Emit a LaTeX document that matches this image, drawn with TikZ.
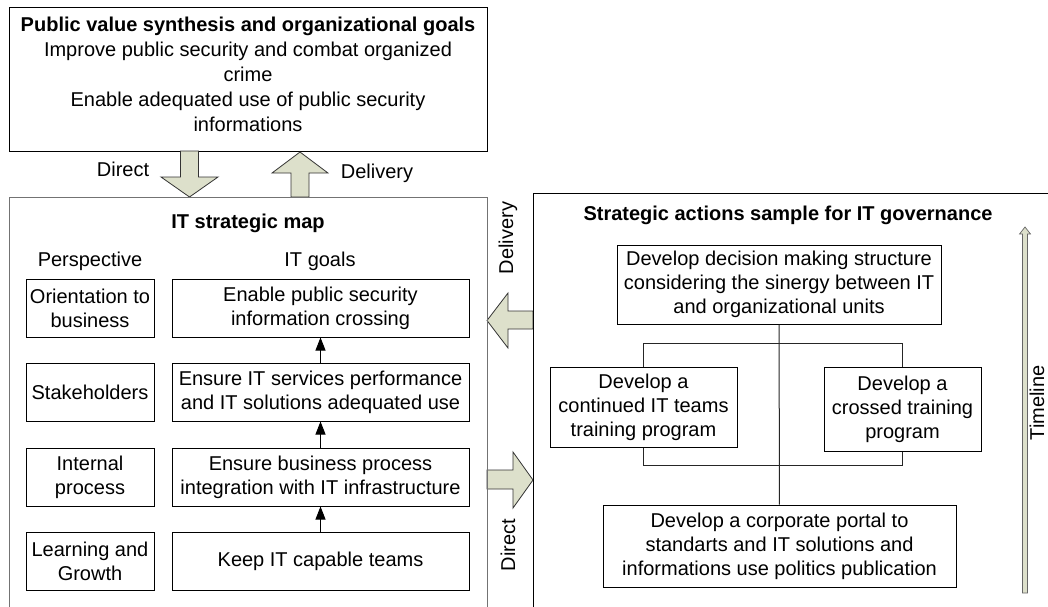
\documentclass[tikz,border=0pt]{standalone}
\usepackage{fontspec}
\setmainfont{Liberation Sans}
\usetikzlibrary{arrows.meta}
\definecolor{arrowfill}{RGB}{221,224,203}

\tikzset{
  txt/.style={font=\fontsize{20}{24}\selectfont},
  title/.style={font=\fontsize{20}{24}\selectfont\bfseries},
  box/.style={txt,draw,line width=1pt,align=center,inner sep=1pt},
  panel/.style={draw,line width=1pt},
  bigarrow/.style={draw=black!80,fill=arrowfill,line width=0.8pt,line join=miter},
  goalarrow/.style={-{Triangle[length=13pt,width=10pt]},line width=1pt},
  link/.style={line width=1pt,black!85}
}

\begin{document}
\begin{tikzpicture}[x=1pt,y=-1pt]
  \useasboundingbox (0,0) rectangle (1048,606);
  \clip (0,0) rectangle (1048,606);

  % public value block
  \node[panel,minimum width=478pt,minimum height=144pt] (pubval) at (248,79) {};
  \node[txt,align=center,font=\fontsize{20}{25}\selectfont] (pubtxt) at (248,74)
    {\textbf{Public value synthesis and organizational goals}\\
     Improve public security and combat organized\\crime\\
     Enable adequated use of public security\\informations};

  % block arrows between the panels
  \draw[bigarrow] (180.5,151) -- (180.5,177) -- (161,177) -- (189.5,197)
    -- (218,177) -- (198.5,177) -- (198.5,151) -- cycle;
  \draw[bigarrow] (291,197) -- (291,173) -- (272,173) -- (300,152)
    -- (328,173) -- (309,173) -- (309,197) -- cycle;
  \draw[bigarrow] (533,311) -- (508,311) -- (508,293) -- (487,320.5)
    -- (508,348) -- (508,329) -- (533,329) -- cycle;
  \draw[bigarrow] (487,470) -- (513,470) -- (513,452) -- (533,480)
    -- (513,508) -- (513,489) -- (487,489) -- cycle;
  \node[txt] (direct1) at (123,169) {Direct};
  \node[txt] (delivery1) at (377,173) {Delivery};
  \node[txt,rotate=90] (delivery2) at (508,238) {Delivery};
  \node[txt,rotate=90] (direct2) at (508,545) {Direct};

  % IT strategic map
  \draw[panel,black!55] (9,197) rectangle (487,640);
  \node[title] (maptitle) at (248,223) {IT strategic map};
  \node[txt] (persphead) at (90,261) {Perspective};
  \node[txt] (goalhead) at (320,261) {IT goals};
  \foreach \y/\p/\g [count=\i] in {
      308/{Orientation to\\business}/{Enable public security\\information crossing},
      392/{Stakeholders}/{Ensure IT services performance\\and IT solutions adequated use},
      477/{Internal\\process}/{Ensure business process\\integration with IT infrastructure},
      561/{Learning and\\Growth}/{Keep IT capable teams}} {
    \node[box,minimum width=128pt,minimum height=58pt] (persp\i) at (90,\y) {\p};
    \node[box,minimum width=297pt,minimum height=58pt] (goal\i) at (320.5,\y) {\g};
  }
  \foreach \i/\j in {2/1,3/2,4/3}
    \draw[goalarrow] (goal\i) -- (goal\j);

  % strategic actions
  \draw[panel] (533,193) rectangle (1060,640);
  \node[title] (acttitle) at (788,215) {Strategic actions sample for IT governance};
  \node[box,minimum width=324pt,minimum height=79pt] (act1) at (779,284.5)
    {Develop decision making structure\\considering the sinergy between IT\\and organizational units};
  \node[box,minimum width=187pt,minimum height=80pt] (act2) at (643.5,407)
    {Develop a\\continued IT teams\\training program};
  \node[box,minimum width=157pt,minimum height=84pt] (act3) at (902.5,409)
    {Develop a\\crossed training\\program};
  \node[box,minimum width=353pt,minimum height=82pt] (act4) at (779.5,546)
    {Develop a corporate portal to\\standarts and IT solutions and\\informations use politics publication};
  \draw[link] (act1) -- (act4);
  \draw[link] (act2.north) -- ++(0,-23) -| (act3.north);
  \draw[link] (act2.south) -- ++(0,18) -| (act3.south);

  % timeline
  \draw[draw=black!60,fill=arrowfill,line width=0.7pt,line join=miter]
    (1022.5,593) -- (1022.5,234) -- (1019.5,234) -- (1025,227) -- (1030.5,234)
    -- (1027.5,234) -- (1027.5,593) -- cycle;
  \node[txt,rotate=90,inner sep=0pt] (timeline) at (1037,403) {Timeline};
\end{tikzpicture}
\end{document}
